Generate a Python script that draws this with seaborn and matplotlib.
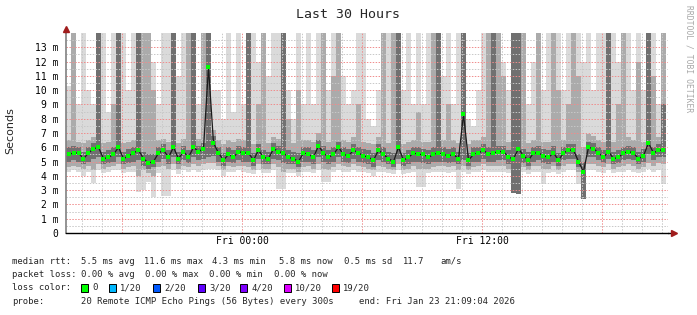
import numpy as np
import matplotlib
matplotlib.use("Agg")
import matplotlib.pyplot as plt
from matplotlib.patches import Rectangle
import seaborn as sns

# ---------------- data (15-minute columns, hours relative to Fri 00:00) ----------------
start_hour = -8.8
step_hour = 0.25

median = [5.5, 5.6, 5.6, 5.2, 5.6, 5.9, 6.0, 5.2, 5.3, 5.5,
          6.0, 5.2, 5.4, 5.6, 5.8, 5.2, 4.9, 5.0, 5.6, 5.8,
          5.3, 6.0, 5.2, 5.7, 5.3, 6.0, 5.7, 5.9, 11.6, 6.3,
          5.6, 5.1, 5.5, 5.3, 5.7, 5.6, 5.6, 5.1, 5.8, 5.3,
          5.2, 5.9, 5.7, 5.6, 5.3, 5.2, 5.0, 5.6, 5.5, 5.3,
          6.1, 5.6, 5.3, 5.5, 6.0, 5.5, 5.4, 5.8, 5.6, 5.4,
          5.3, 5.1, 5.8, 5.5, 5.2, 5.0, 6.0, 5.1, 5.3, 5.6,
          5.5, 5.5, 5.3, 5.5, 5.6, 5.5, 5.4, 5.5, 5.2, 8.3,
          5.1, 5.5, 5.6, 5.8, 5.5, 5.6, 5.7, 5.7, 5.3, 5.2,
          5.9, 5.4, 5.1, 5.6, 5.6, 5.4, 5.3, 5.6, 5.1, 5.6,
          5.8, 5.8, 5.0, 4.3, 6.0, 5.9, 5.6, 5.3, 5.7, 5.2,
          5.3, 5.6, 5.7, 5.6, 5.2, 5.4, 6.3, 5.6, 5.8, 5.8]

ping_min = [4.3, 4.4, 4.3, 4.0, 4.3, 3.5, 4.4, 4.2, 4.3, 4.4,
            4.4, 4.2, 4.3, 4.3, 2.9, 3.0, 3.6, 2.5, 4.2, 2.6,
            2.6, 4.4, 4.1, 4.4, 4.3, 4.4, 4.3, 4.4, 4.5, 4.5,
            4.4, 4.0, 4.3, 4.3, 4.4, 4.3, 4.2, 4.1, 4.4, 4.2,
            4.2, 4.4, 3.1, 3.1, 4.2, 4.2, 4.0, 4.3, 4.3, 4.2,
            4.4, 3.6, 3.6, 4.3, 4.4, 4.3, 4.3, 4.4, 4.3, 4.3,
            4.2, 4.0, 4.3, 4.3, 4.2, 4.1, 4.4, 4.1, 4.2, 4.3,
            3.2, 3.2, 4.2, 4.3, 4.3, 4.3, 4.2, 4.3, 3.1, 4.3,
            4.1, 4.3, 4.3, 4.4, 4.3, 4.3, 4.3, 4.3, 4.2, 2.8,
            2.7, 4.3, 4.1, 4.3, 4.3, 3.4, 4.2, 4.3, 4.1, 4.3,
            4.4, 4.4, 3.4, 2.4, 4.4, 4.4, 4.3, 4.2, 4.4, 4.2,
            4.3, 4.3, 4.4, 4.3, 4.2, 4.3, 4.5, 4.3, 4.4, 3.4]

ping_q1 = [4.6, 4.7, 4.6, 4.5, 4.7, 4.4, 4.8, 4.5, 4.6, 4.7,
           4.8, 4.5, 4.6, 4.7, 4.0, 4.4, 4.2, 4.0, 4.6, 4.7,
           4.5, 4.8, 4.5, 4.7, 4.6, 4.8, 4.7, 4.8, 4.9, 4.9,
           4.7, 4.4, 4.7, 4.6, 4.7, 4.7, 4.6, 4.4, 4.8, 4.5,
           4.5, 4.8, 4.6, 4.3, 4.5, 4.5, 4.3, 4.6, 4.7, 4.5,
           4.8, 4.5, 4.4, 4.6, 4.8, 4.7, 4.6, 4.8, 4.7, 4.6,
           4.5, 4.4, 4.7, 4.6, 4.5, 4.4, 4.8, 4.4, 4.5, 4.7,
           4.5, 4.5, 4.5, 4.6, 4.7, 4.7, 4.6, 4.7, 4.4, 4.7,
           4.4, 4.6, 4.7, 4.8, 4.7, 4.7, 4.7, 4.7, 4.5, 3.0,
           3.0, 4.6, 4.4, 4.7, 4.7, 4.5, 4.5, 4.7, 4.4, 4.7,
           4.8, 4.8, 4.3, 2.6, 4.8, 4.8, 4.7, 4.6, 4.8, 4.5,
           4.6, 4.7, 4.8, 4.7, 4.5, 4.6, 4.9, 4.7, 4.9, 4.8]

ping_q2 = [5.0, 5.1, 5.0, 4.8, 5.0, 5.2, 5.3, 4.8, 4.9, 5.0,
           5.3, 4.8, 4.9, 5.0, 5.1, 4.7, 4.5, 4.6, 5.0, 5.2,
           4.8, 5.3, 4.8, 5.1, 4.9, 5.3, 5.1, 5.2, 5.3, 5.4,
           5.0, 4.7, 5.0, 4.9, 5.1, 5.0, 5.0, 4.7, 5.2, 4.8,
           4.8, 5.2, 5.1, 4.9, 4.8, 4.8, 4.6, 5.0, 5.0, 4.8,
           5.3, 5.0, 4.8, 5.0, 5.3, 5.0, 4.9, 5.2, 5.0, 4.9,
           4.8, 4.6, 5.1, 5.0, 4.8, 4.6, 5.2, 4.7, 4.8, 5.0,
           5.0, 4.9, 4.8, 5.0, 5.0, 5.0, 4.9, 5.0, 4.8, 5.1,
           4.7, 5.0, 5.0, 5.2, 5.0, 5.0, 5.1, 5.1, 4.8, 2.8,
           2.7, 4.9, 4.7, 5.0, 5.1, 4.9, 4.8, 5.0, 4.7, 5.1,
           5.2, 5.2, 4.6, 2.4, 5.3, 5.3, 5.1, 4.9, 5.2, 4.8,
           4.9, 5.1, 5.2, 5.1, 4.8, 5.0, 5.5, 5.1, 5.3, 5.3]

ping_q3 = [6.0, 6.1, 6.0, 5.7, 6.0, 6.3, 14, 5.7, 5.8, 6.0,
           14, 5.7, 5.9, 6.0, 14, 5.7, 5.5, 5.5, 6.0, 6.2,
           5.8, 14, 5.7, 6.1, 5.8, 14, 6.1, 6.3, 14, 6.8,
           6.0, 5.6, 6.0, 5.8, 6.1, 6.0, 14, 5.6, 6.2, 5.8,
           5.7, 6.3, 6.1, 14, 5.8, 5.7, 5.6, 6.0, 6.0, 5.8,
           6.5, 6.1, 5.8, 6.0, 6.4, 6.0, 5.9, 6.2, 6.0, 5.9,
           5.8, 5.6, 6.2, 6.0, 5.7, 5.6, 14, 5.6, 5.8, 6.0,
           6.0, 5.9, 5.8, 6.0, 14, 6.0, 5.9, 6.0, 5.7, 14,
           5.6, 6.0, 6.0, 6.2, 6.0, 14, 6.1, 6.1, 5.8, 14,
           14, 5.9, 5.7, 6.0, 6.1, 5.9, 5.8, 6.1, 5.6, 6.0,
           6.2, 6.2, 5.5, 5.0, 6.4, 6.3, 6.0, 5.8, 14, 5.7,
           5.8, 6.0, 6.1, 6.0, 5.7, 5.9, 14, 6.0, 6.2, 9.0]

ping_q4 = [6.5, 14, 6.4, 6.3, 6.5, 6.7, 14, 6.3, 6.4, 9.0,
           14, 6.3, 6.4, 6.5, 14, 14, 14, 10, 6.5, 6.6,
           6.4, 14, 6.3, 6.6, 14, 14, 6.6, 14, 14, 7.2,
           6.5, 6.2, 6.5, 6.4, 6.6, 6.5, 14, 6.2, 9.0, 14,
           6.3, 6.7, 6.6, 14, 8.0, 6.3, 10, 6.5, 6.5, 6.4,
           7.0, 14, 6.4, 11, 14, 6.5, 6.4, 6.7, 9.0, 6.4,
           6.3, 6.2, 6.7, 14, 6.3, 14, 14, 6.2, 6.4, 6.5,
           8.5, 6.4, 6.4, 14, 14, 6.5, 9.0, 6.5, 6.3, 14,
           6.2, 6.5, 6.5, 6.7, 14, 14, 14, 11, 6.4, 14,
           14, 14, 6.3, 6.5, 14, 6.4, 6.4, 14, 10, 6.5,
           9.0, 14, 11, 6.0, 6.9, 6.8, 6.5, 6.4, 14, 6.4,
           9.0, 14, 6.7, 6.5, 12, 6.4, 14, 11, 6.7, 14]

ping_max = [10.3, 14, 9, 14, 10, 9, 14, 14, 8.5, 14,
            14, 14, 10, 14, 14, 14, 14, 12, 9, 14,
            14, 14, 11, 14, 14, 14, 9, 14, 14, 10,
            10, 8, 14, 8.5, 14, 9, 14, 14, 12, 14,
            11, 14, 14, 14, 10, 8, 14, 9, 14, 9,
            14, 14, 10, 14, 14, 11, 9, 10, 14, 14,
            8, 7.5, 10, 14, 14, 14, 14, 10, 14, 9,
            14, 9, 14, 14, 14, 11, 14, 9, 14, 14,
            8, 7.5, 10, 14, 14, 14, 14, 12, 10, 14,
            14, 14, 9, 12, 14, 10, 14, 14, 14, 10,
            14, 14, 14, 12, 14, 10, 14, 14, 14, 14,
            12, 14, 14, 10, 14, 10, 14, 14, 9, 14]

y_ticks = list(range(14))
y_tick_labels = ["0"] + [f"{v} m" for v in range(1, 14)]
x_major = [-6, 0, 6, 12, 18]
x_major_labels = ["", "Fri 00:00", "", "Fri 12:00", ""]

legend_rows = [
    ["median rtt:", "5.5 ms avg", "11.6 ms max", "4.3 ms min", "5.8 ms now", "0.5 ms sd", "11.7", "am/s"],
    ["packet loss:", "0.00 % avg", "0.00 % max", "0.00 % min", "0.00 % now"],
]
loss_labels = ["0", "1/20", "2/20", "3/20", "4/20", "10/20", "19/20"]
loss_colors = ["#00ff00", "#00b8ff", "#0059ff", "#5e00ff", "#7e00ff", "#dd00ff", "#ff0000"]
probe_text = "20 Remote ICMP Echo Pings (56 Bytes) every 300s"
end_text = "end: Fri Jan 23 21:09:04 2026"

# ---------------- figure ----------------
sns.set_style("white")
plt.rcParams["font.family"] = ["DejaVu Sans Mono", "DejaVu Sans"]

W, H = 697, 315
fig = plt.figure(figsize=(W / 100, H / 100), dpi=100)
fig.patch.set_facecolor("white")
ax = fig.add_axes([66 / W, 82 / H, 602 / W, 200 / H])
ax.set_facecolor("white")

n = len(median)
hours = start_hour + step_hour * np.arange(n)
med = np.array(median)
pmin, q1, q2, q3, q4, pmax = map(np.array, (ping_min, ping_q1, ping_q2, ping_q3, ping_q4, ping_max))

# smoke
ax.bar(hours, pmax - pmin, bottom=pmin, width=step_hour, align="edge",
       color="#dadada", linewidth=0, zorder=1)
ax.bar(hours, q4 - q1, bottom=q1, width=step_hour, align="edge",
       color="#ababab", linewidth=0, zorder=1.1)
ax.bar(hours, q3 - q2, bottom=q2, width=step_hour, align="edge",
       color="#707070", linewidth=0, zorder=1.2)

# median
centers = hours + step_hour / 2
sns.lineplot(x=centers, y=med, ax=ax, color="#1a1a1a", linewidth=0.9, zorder=3)
sns.scatterplot(x=centers, y=med, ax=ax, color="#00ff00", marker="s", s=6,
                linewidth=0, zorder=4)

ax.set_xlim(-8.8, 21.3)
ax.set_ylim(0, 14)

# grid
ax.set_xticks(x_major)
ax.set_xticklabels(x_major_labels)
ax.set_xticks(np.arange(-8, 22, 1), minor=True)
ax.set_yticks(y_ticks)
ax.set_yticklabels(y_tick_labels)
ax.set_yticks(np.arange(0.5, 14, 1), minor=True)
ax.set_axisbelow(False)
ax.grid(which="minor", color="#c8c8c8", linestyle=(0, (1.5, 1.5)), linewidth=0.7, zorder=2.5)
ax.grid(which="major", color="#f08c8c", linestyle=(0, (1.5, 1.5)), linewidth=0.7, zorder=2.6)
ax.tick_params(which="both", length=0)
ax.tick_params(axis="y", pad=5.5, labelsize=7)
ax.tick_params(axis="x", pad=2.5, labelsize=7)
for lbl in ax.get_xticklabels() + ax.get_yticklabels():
    lbl.set_color("black")

for s in ("top", "right"):
    ax.spines[s].set_visible(False)
ax.spines["left"].set_color("#808080")
ax.spines["left"].set_linewidth(1.2)
ax.spines["bottom"].set_color("black")
ax.spines["bottom"].set_linewidth(1.0)
ax.spines["left"].set_zorder(5)
ax.spines["bottom"].set_zorder(5)

# axis arrows
ax.plot([-8.8, -8.8], [14, 14.25], color="#808080", lw=1.2, clip_on=False, zorder=5)
ax.plot([-8.8], [14.3], marker="^", color="#a01c1c", markersize=4.5, clip_on=False, zorder=6)
ax.plot([21.3, 21.55], [0, 0], color="black", lw=1.0, clip_on=False, zorder=5)
ax.plot([21.6], [0], marker=">", color="#a01c1c", markersize=4.5, clip_on=False, zorder=6)

def ftext(x, y, s, **kw):
    fig.text(x / W, 1 - y / H, s, **kw)

ftext(347.5, 18.5, "Last 30 Hours", fontsize=9.5, ha="center", va="baseline")
ftext(10, 131, "Seconds", fontsize=8, family="DejaVu Sans", rotation=90, ha="center", va="center")
ftext(688.5, 5, "RRDTOOL / TOBI OETIKER", fontsize=5.8, color="#a8a8a8",
      rotation=-90, ha="center", va="top")

fs = 6.4
row_x = [
    [12, 81, 144, 212, 279, 344, 403, 440],
    [12, 81, 145, 209, 274],
]
baselines = [263.5, 277, 290.5, 304]
for texts, xs, yb in zip(legend_rows, row_x, baselines[:2]):
    for t, x in zip(texts, xs):
        ftext(x, yb, t, fontsize=fs, ha="left", va="baseline")

ftext(12, baselines[2], "loss color:", fontsize=fs, ha="left", va="baseline")
box_x = [81, 109, 153, 198, 240, 284, 332]
for bx, lab, col in zip(box_x, loss_labels, loss_colors):
    fig.add_artist(Rectangle((bx / W, 1 - 291.5 / H), 7 / W, 8 / H, transform=fig.transFigure,
                             facecolor=col, edgecolor="black", linewidth=0.7))
    ftext(bx + 11, baselines[2], lab, fontsize=fs, ha="left", va="baseline")

ftext(12, baselines[3], "probe:", fontsize=fs, ha="left", va="baseline")
ftext(81, baselines[3], probe_text, fontsize=fs, ha="left", va="baseline")
ftext(359, baselines[3], end_text, fontsize=fs, ha="left", va="baseline")

fig.savefig("out.png", dpi=100, facecolor="white")
